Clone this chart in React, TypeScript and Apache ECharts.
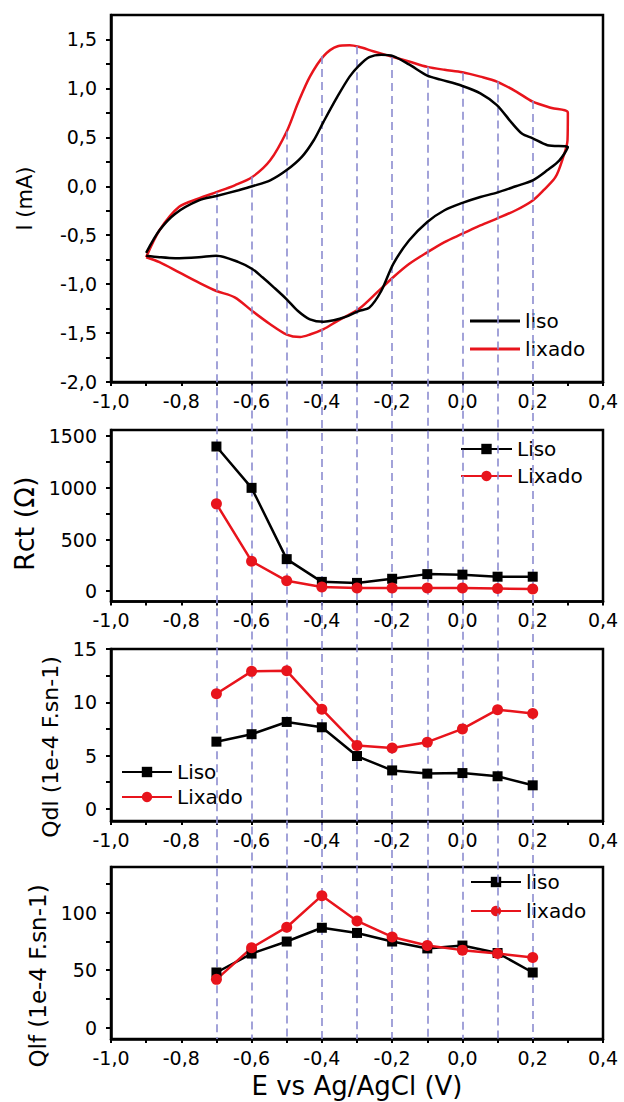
import React, { useEffect, useRef } from "react";
import * as echarts from "echarts";

// ---------- data ----------
const cvLiso: number[][] = [
  [-0.9, -0.68], [-0.862, -0.45], [-0.817, -0.28], [-0.75, -0.145], [-0.7, -0.1], [-0.637, -0.04],
  [-0.598, 0.0], [-0.547, 0.06], [-0.5, 0.165], [-0.457, 0.3], [-0.423, 0.47], [-0.395, 0.66],
  [-0.355, 0.92], [-0.321, 1.12], [-0.295, 1.23], [-0.265, 1.32], [-0.231, 1.345], [-0.197, 1.33],
  [-0.152, 1.245], [-0.1, 1.13], [-0.062, 1.09], [0.0, 1.025], [0.051, 0.95], [0.098, 0.83],
  [0.141, 0.645], [0.169, 0.54], [0.2, 0.49], [0.242, 0.42], [0.3, 0.4],
  [0.276, 0.265], [0.242, 0.165], [0.2, 0.06], [0.152, 0.0], [0.098, -0.065], [0.051, -0.11],
  [0.0, -0.17], [-0.051, -0.245], [-0.1, -0.365], [-0.152, -0.555], [-0.197, -0.795], [-0.231, -1.07],
  [-0.265, -1.24], [-0.295, -1.275], [-0.333, -1.335], [-0.366, -1.37], [-0.395, -1.385], [-0.434, -1.36],
  [-0.468, -1.275], [-0.5, -1.155], [-0.536, -1.035], [-0.569, -0.93], [-0.598, -0.845], [-0.637, -0.775],
  [-0.7, -0.71], [-0.75, -0.725], [-0.817, -0.735], [-0.862, -0.725], [-0.9, -0.71],
];
const cvLixado: number[][] = [
  [-0.9, -0.725], [-0.862, -0.45], [-0.806, -0.21], [-0.75, -0.125], [-0.7, -0.06], [-0.648, 0.01],
  [-0.598, 0.095], [-0.547, 0.265], [-0.5, 0.56], [-0.468, 0.85], [-0.434, 1.12], [-0.395, 1.33],
  [-0.355, 1.43], [-0.321, 1.44], [-0.295, 1.425], [-0.254, 1.38], [-0.197, 1.32], [-0.152, 1.275],
  [-0.1, 1.22], [-0.051, 1.19], [0.0, 1.165], [0.051, 1.12], [0.098, 1.07], [0.152, 0.97],
  [0.2, 0.865], [0.254, 0.8], [0.3, 0.75],
  [0.299, 0.47], [0.287, 0.3], [0.265, 0.095], [0.231, -0.04], [0.2, -0.145], [0.152, -0.245],
  [0.098, -0.33], [0.051, -0.4], [0.0, -0.485], [-0.051, -0.57], [-0.1, -0.675], [-0.152, -0.795],
  [-0.197, -0.93], [-0.243, -1.085], [-0.295, -1.255], [-0.355, -1.375], [-0.395, -1.46], [-0.434, -1.515],
  [-0.462, -1.54], [-0.5, -1.515], [-0.547, -1.41], [-0.598, -1.275], [-0.648, -1.135], [-0.7, -1.07],
  [-0.75, -0.985], [-0.806, -0.88], [-0.862, -0.775], [-0.9, -0.725],
];

const potentials = [-0.7, -0.6, -0.5, -0.4, -0.3, -0.2, -0.1, 0.0, 0.1, 0.2];
const rctLiso = [1400, 1000, 310, 90, 80, 120, 165, 160, 140, 140];
const rctLixado = [845, 290, 100, 40, 30, 30, 30, 30, 25, 20];
const qdlLiso = [6.3, 7.0, 8.15, 7.65, 4.95, 3.6, 3.3, 3.35, 3.05, 2.2];
const qdlLixado = [10.8, 12.9, 12.95, 9.35, 5.95, 5.7, 6.25, 7.5, 9.3, 8.95];
const qlfLiso = [48, 64.5, 75, 87, 82.5, 75, 69, 71.5, 65, 48];
const qlfLixado = [42, 69.5, 87.5, 115, 93, 79, 71.5, 67.5, 64.5, 61];
// upper value of the "lixado" voltammogram where each guide line begins
const guideStart = [-0.06, 0.1, 0.56, 1.33, 1.43, 1.32, 1.22, 1.16, 1.07, 0.87];

const xTickLabels = [-1.0, -0.8, -0.6, -0.4, -0.2, 0.0, 0.2, 0.4];
const xTickMarks = [-1.0, -0.9, -0.8, -0.7, -0.6, -0.5, -0.4, -0.3, -0.2, -0.1, 0.0, 0.1, 0.2, 0.3, 0.4];
const iLabels = [-2.0, -1.5, -1.0, -0.5, 0.0, 0.5, 1.0, 1.5];
const iTicks = [-2.0, -1.75, -1.5, -1.25, -1.0, -0.75, -0.5, -0.25, 0.0, 0.25, 0.5, 0.75, 1.0, 1.25, 1.5];
const rctLabels = [0, 500, 1000, 1500];
const rctTicks = [0, 250, 500, 750, 1000, 1250, 1500];
const qdlLabels = [0, 5, 10, 15];
const qdlTicks = [0, 2.5, 5, 7.5, 10, 12.5, 15];
const qlfLabels = [0, 50, 100];
const qlfTicks = [0, 25, 50, 75, 100, 125];

// ---------- layout ----------
const FONT = "DejaVu Sans";
const LEFT = 111;
const WIDTH = 492;
const BLACK = "#000000";
const RED = "#e8141c";
const GUIDE = "#8c8cd0";
const P1 = { top: 15, height: 367, min: -2.0, max: 1.75 };
const P2 = { top: 430, height: 171.5, min: -100, max: 1560 };
const P3 = { top: 649, height: 172, min: -1.15, max: 15 };
const P4 = { top: 867, height: 172, min: -10, max: 140 };
const OV_TOP = P1.top;
const OV_HEIGHT = P4.top + P4.height - P1.top;
const OV_MAX = P1.max;
const OV_MIN = P1.max - OV_HEIGHT * ((P1.max - P1.min) / P1.height);

const comma1 = (v: number) => (Math.abs(v) < 1e-9 ? 0 : v).toFixed(1).replace(".", ",");

function grid(p: { top: number; height: number }, show = true) {
  return {
    left: LEFT, width: WIDTH, top: p.top, height: p.height,
    show, borderColor: BLACK, borderWidth: show ? 2.5 : 0, backgroundColor: "transparent",
  };
}

function xAxis(gi: number, name = "") {
  return {
    type: "value", gridIndex: gi, min: -1.0, max: 0.4,
    axisLine: { show: true, onZero: false, lineStyle: { color: BLACK, width: 2.5 } },
    axisTick: { show: true, inside: false, length: 4, lineStyle: { color: BLACK, width: 2 }, customValues: xTickMarks },
    axisLabel: { show: true, margin: 9, customValues: xTickLabels, formatter: comma1, color: BLACK, fontFamily: FONT, fontSize: 19 },
    splitLine: { show: false },
    name, nameLocation: "middle", nameGap: 34,
    nameTextStyle: { color: BLACK, fontFamily: FONT, fontSize: 26 },
  };
}

function yAxis(gi: number, p: { min: number; max: number }, labels: number[], ticks: number[], fmt: any,
  name: string, nameSize: number, nameGap: number, shiftDown: number) {
  return {
    type: "value", gridIndex: gi, min: p.min, max: p.max,
    axisLine: { show: true, onZero: false, lineStyle: { color: BLACK, width: 2.5 } },
    axisTick: { show: true, inside: false, length: 5, lineStyle: { color: BLACK, width: 2 }, customValues: ticks },
    axisLabel: { show: true, margin: 14, customValues: labels, formatter: fmt, color: BLACK, fontFamily: FONT, fontSize: 19 },
    splitLine: { show: false },
    name, nameLocation: "middle", nameGap,
    nameTextStyle: { color: BLACK, fontFamily: FONT, fontSize: nameSize, padding: [0, shiftDown * 2, 0, 0] },
  };
}

const pts = (ys: number[]) => potentials.map((x, i) => [x, ys[i]]);

function markerSeries(name: string, gi: number, ys: number[], color: string, symbol: string, size: number) {
  return {
    type: "line", name, xAxisIndex: gi, yAxisIndex: gi, data: pts(ys),
    symbol, symbolSize: size, showSymbol: true,
    lineStyle: { color, width: 2.5 }, itemStyle: { color },
    z: 5,
  };
}

function legend(left: number, top: number, data: any[], itemHeight: number, itemGap: number, width = 50) {
  return {
    orient: "vertical", left, top, itemWidth: width, itemHeight, itemGap, data,
    textStyle: { color: BLACK, fontFamily: FONT, fontSize: 20 },
    selectedMode: false, padding: 0,
  };
}

export default function App() {
  const ref = useRef<HTMLDivElement>(null);
  useEffect(() => {
    document.body.style.margin = "0";
    if (!ref.current) return;
    const chart = echarts.init(ref.current, null, { renderer: "svg" });
    const guideLines = potentials.map((x, i) => [
      { coord: [x, guideStart[i]] },
      { coord: [x, OV_MIN] },
    ]);
    chart.setOption({
      animation: false,
      backgroundColor: "#ffffff",
      grid: [grid(P1), grid(P2), grid(P3), grid(P4), grid({ top: OV_TOP, height: OV_HEIGHT }, false)],
      xAxis: [xAxis(0), xAxis(1), xAxis(2), xAxis(3, "E vs Ag/AgCl (V)"),
        { type: "value", gridIndex: 4, min: -1.0, max: 0.4, show: false }],
      yAxis: [
        yAxis(0, P1, iLabels, iTicks, comma1, "I (mA)", 21, 76, 0),
        yAxis(1, P2, rctLabels, rctTicks, (v: number) => String(v), "Rct (\u03A9)", 27, 72, 8),
        yAxis(2, P3, qdlLabels, qdlTicks, (v: number) => String(v), "Qdl (1e-4 F.sn-1)", 22, 46, 12),
        yAxis(3, P4, qlfLabels, qlfTicks, (v: number) => String(v), "Qlf (1e-4 F.sn-1)", 23, 57, 23),
        { type: "value", gridIndex: 4, min: OV_MIN, max: OV_MAX, show: false },
      ],
      legend: [
        legend(470, 311, [{ name: "liso", icon: "rect" }, { name: "lixado", icon: "rect" }], 3, 8),
        legend(460, 439, ["Liso", "Lixado"], 13, 7, 51),
        legend(121, 762, ["Liso", "Lixado"], 13, 5),
        legend(470, 872, ["liso", "lixado"], 13, 9),
      ],
      series: [
        markerSeries("liso", 3, qlfLiso, BLACK, "rect", 10),
        markerSeries("lixado", 3, qlfLixado, RED, "circle", 11),
        {
          type: "line", name: "liso", xAxisIndex: 0, yAxisIndex: 0, data: cvLiso,
          showSymbol: false, symbol: "none", smooth: 0.3, lineStyle: { color: BLACK, width: 2.5 }, itemStyle: { color: BLACK }, z: 5,
        },
        {
          type: "line", name: "lixado", xAxisIndex: 0, yAxisIndex: 0, data: cvLixado,
          showSymbol: false, symbol: "none", smooth: 0.3, lineStyle: { color: RED, width: 2.5 }, itemStyle: { color: RED }, z: 4,
        },
        markerSeries("Liso", 1, rctLiso, BLACK, "rect", 10),
        markerSeries("Lixado", 1, rctLixado, RED, "circle", 11),
        markerSeries("Liso", 2, qdlLiso, BLACK, "rect", 10),
        markerSeries("Lixado", 2, qdlLixado, RED, "circle", 11),
        {
          type: "line", name: "guides", xAxisIndex: 4, yAxisIndex: 4, data: [], z: 1, silent: true,
          markLine: {
            silent: true, symbol: ["none", "none"], label: { show: false },
            lineStyle: { color: GUIDE, width: 1.6, type: [8, 5] },
            emphasis: { disabled: true },
            data: guideLines,
          },
        },
      ],
    });
    return () => chart.dispose();
  }, []);
  return <div ref={ref} style={{ width: 624, height: 1102 }} />;
}
